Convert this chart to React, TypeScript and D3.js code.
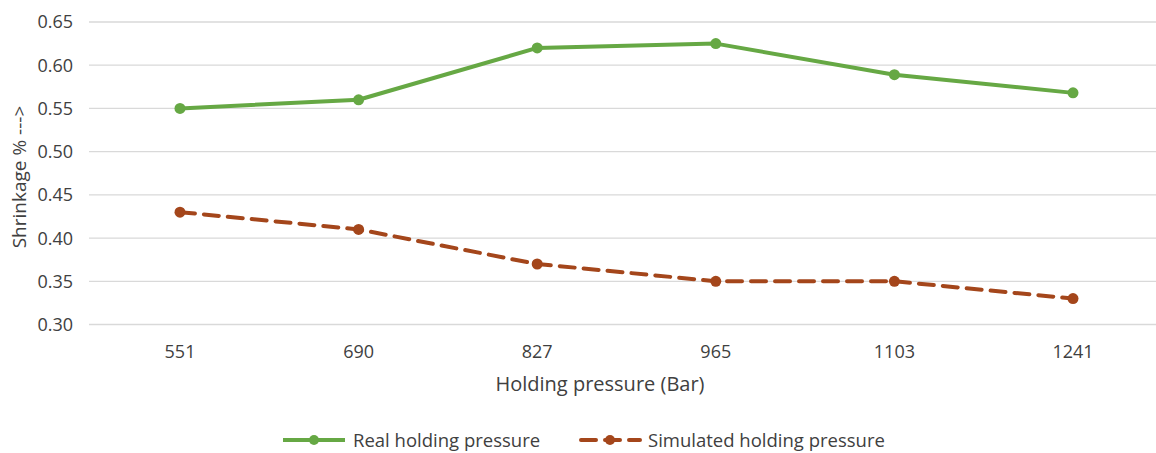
import React from "react";
import * as d3 from "d3";

const categories = ["551", "690", "827", "965", "1103", "1241"];
const realValues = [0.55, 0.56, 0.62, 0.625, 0.589, 0.568];
const simulatedValues = [0.43, 0.41, 0.37, 0.35, 0.35, 0.33];
const yTicks = [0.3, 0.35, 0.4, 0.45, 0.5, 0.55, 0.6, 0.65];

const W = 1156;
const H = 453;
const FONT = "'Open Sans', 'Liberation Sans', sans-serif";
const TEXT = "#404040";
const GREEN = "#66a844";
const BROWN = "#a4461b";

export default function App() {
  const x = d3.scaleBand<string>().domain(categories).range([90.7, 1162.3]);
  const cx = (c: string) => (x(c) ?? 0) + x.bandwidth() / 2;
  const y = d3.scaleLinear().domain([0.3, 0.65]).range([324.5, 22]);

  const line = d3
    .line<number>()
    .x((_, i) => cx(categories[i]))
    .y((d) => y(d));

  return (
    <svg
      width={W}
      height={H}
      style={{ position: "absolute", left: 0, top: 0, background: "#fff" }}
      fontFamily={FONT}
    >
      {yTicks.map((t) => (
        <g key={t}>
          <line x1={89} x2={W} y1={y(t)} y2={y(t)} stroke="#d9d9d9" strokeWidth={1.3} />
          <text x={73} y={y(t)} dy="0.36em" textAnchor="end" fontSize={18} fill={TEXT}>
            {t.toFixed(2)}
          </text>
        </g>
      ))}
      {categories.map((c) => (
        <text key={c} x={cx(c)} y={352} dy="0.36em" textAnchor="middle" fontSize={18} fill={TEXT}>
          {c}
        </text>
      ))}
      <text x={600} y={384} dy="0.36em" textAnchor="middle" fontSize={20} fill={TEXT}>
        Holding pressure (Bar)
      </text>
      <text
        transform={`translate(19,177) rotate(-90)`}
        dy="0.36em"
        textAnchor="middle"
        fontSize={19}
        fill={TEXT}
      >
        Shrinkage % ---&gt;
      </text>

      <path d={line(realValues) ?? ""} fill="none" stroke={GREEN} strokeWidth={4} strokeLinejoin="round" />
      {realValues.map((v, i) => (
        <circle key={i} cx={cx(categories[i])} cy={y(v)} r={5.5} fill={GREEN} />
      ))}

      <path
        d={line(simulatedValues) ?? ""}
        fill="none"
        stroke={BROWN}
        strokeWidth={4}
        strokeDasharray="15 9"
        strokeLinecap="round"
      />
      {simulatedValues.map((v, i) => (
        <circle key={i} cx={cx(categories[i])} cy={y(v)} r={5.5} fill={BROWN} />
      ))}

      {/* legend */}
      <g>
        <line x1={283} x2={345} y1={440} y2={440} stroke={GREEN} strokeWidth={4} />
        <circle cx={314} cy={440} r={5} fill={GREEN} />
        <text x={353} y={440} dy="0.36em" fontSize={18.5} fill={TEXT}>
          Real holding pressure
        </text>
        <line x1={581} x2={640} y1={440} y2={440} stroke={BROWN} strokeWidth={4} strokeDasharray="15 9" strokeLinecap="round" />
        <circle cx={610} cy={440} r={5} fill={BROWN} />
        <text x={648} y={440} dy="0.36em" fontSize={18.5} fill={TEXT}>
          Simulated holding pressure
        </text>
      </g>
    </svg>
  );
}
